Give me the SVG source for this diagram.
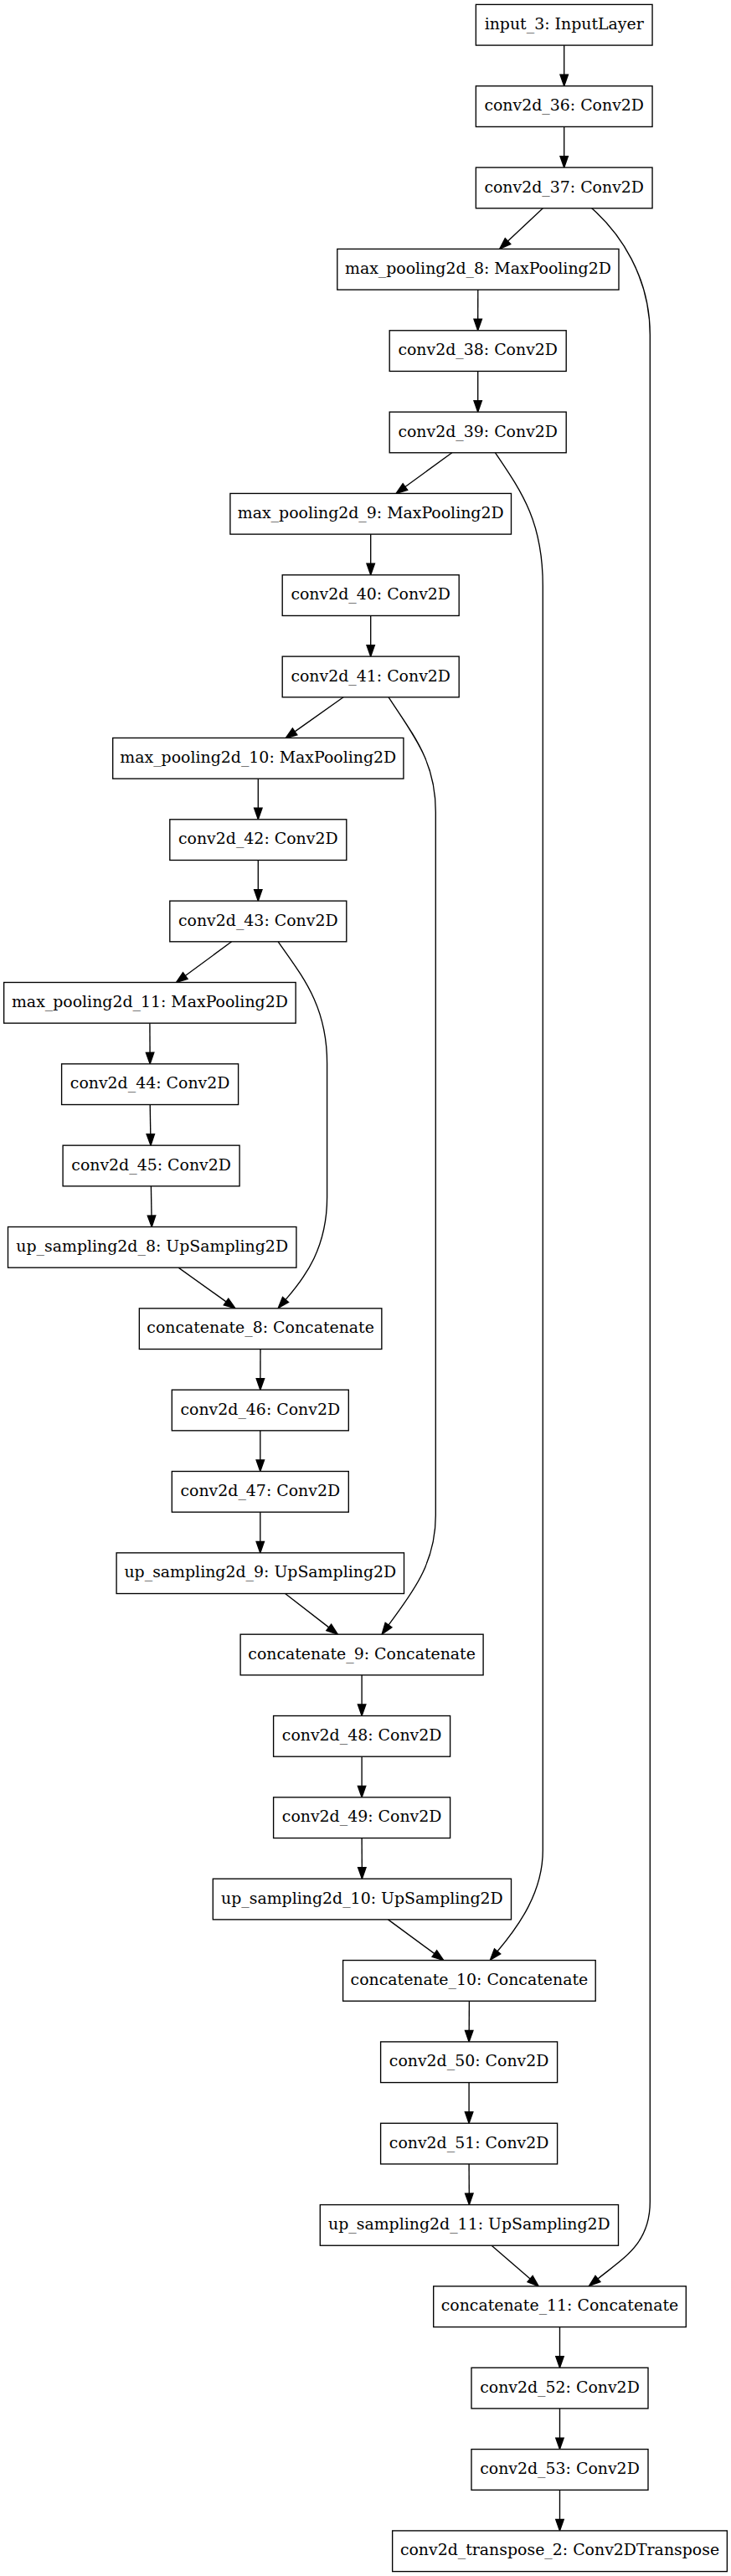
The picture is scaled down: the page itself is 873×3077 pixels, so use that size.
<svg xmlns="http://www.w3.org/2000/svg" width="873" height="3077" viewBox="0 0 873 3077">
<style>
.n rect{fill:#fff;stroke:#000;stroke-width:1.35}
.n text{font-family:"DejaVu Serif",serif;font-size:18.9px;text-anchor:middle;fill:#000}
#edges line,#edges path{fill:none;stroke:#000;stroke-width:1.35;marker-end:url(#ah)}
</style>
<defs>
<marker id="ah" markerUnits="userSpaceOnUse" markerWidth="16" markerHeight="12" refX="0" refY="0" orient="auto" overflow="visible">
<polygon points="0,-4.73 13.5,0 0,4.73" fill="#000" stroke="#000" stroke-width="1.35"/>
</marker>
</defs>
<rect width="873" height="3077" fill="#fff"/>
<g id="edges">
<line x1="673.7" y1="54.08" x2="673.7" y2="89.25"/>
<line x1="673.7" y1="151.42" x2="673.7" y2="186.59"/>
<line x1="648.3" y1="248.76" x2="606.5" y2="288.1"/>
<line x1="570.8" y1="346.1" x2="570.7" y2="381.27"/>
<line x1="570.7" y1="443.44" x2="570.7" y2="478.61"/>
<line x1="539.8" y1="540.78" x2="483.9" y2="581.5"/>
<line x1="442.7" y1="638.11" x2="442.7" y2="673.28"/>
<line x1="442.7" y1="735.45" x2="442.7" y2="770.62"/>
<line x1="410.1" y1="832.79" x2="352.1" y2="873.9"/>
<line x1="308.3" y1="930.13" x2="308.3" y2="965.3"/>
<line x1="308.3" y1="1027.47" x2="308.3" y2="1062.64"/>
<line x1="276.6" y1="1124.81" x2="221.3" y2="1165.5"/>
<line x1="178.9" y1="1222.15" x2="179.1" y2="1257.32"/>
<line x1="179.2" y1="1319.49" x2="179.8" y2="1354.66"/>
<line x1="180.4" y1="1416.83" x2="181.0" y2="1452.0"/>
<line x1="213.1" y1="1514.17" x2="270.0" y2="1554.9"/>
<path d="M332.2,1124.81 C360,1165 390.6,1200 390.6,1270 L390.6,1430 C390.6,1490 365,1525 341.1,1552.4"/>
<line x1="311.0" y1="1611.51" x2="310.9" y2="1646.67"/>
<line x1="310.8" y1="1708.84" x2="310.8" y2="1744.01"/>
<line x1="310.8" y1="1806.18" x2="310.8" y2="1841.35"/>
<line x1="340.6" y1="1903.52" x2="392.7" y2="1943.9"/>
<path d="M464.1,832.79 C495,880 520.3,910 520.3,970 L520.3,1810 C520.3,1870 490,1905 464,1941.1"/>
<line x1="432.1" y1="2000.86" x2="432.1" y2="2036.03"/>
<line x1="432.1" y1="2098.2" x2="432.1" y2="2133.37"/>
<line x1="432.1" y1="2195.54" x2="432.3" y2="2230.71"/>
<line x1="463.5" y1="2292.88" x2="518.9" y2="2333.6"/>
<path d="M591.5,540.78 C625,590 648.3,625 648.3,700 L648.3,2210 C648.3,2260 620,2300 594.1,2330.8"/>
<line x1="560.4" y1="2390.22" x2="560.2" y2="2425.39"/>
<line x1="560.1" y1="2487.56" x2="560.1" y2="2522.73"/>
<line x1="560.1" y1="2584.9" x2="560.3" y2="2620.07"/>
<line x1="587.1" y1="2682.24" x2="633.1" y2="2722.1"/>
<path d="M706.7,248.76 C740,278 776.3,330 776.3,400 L776.3,2630 C776.3,2680 745,2697 714,2722"/>
<line x1="668.5" y1="2779.57" x2="668.5" y2="2814.74"/>
<line x1="668.5" y1="2876.91" x2="668.5" y2="2912.08"/>
<line x1="668.5" y1="2974.25" x2="668.5" y2="3009.42"/>
</g>
<g id="input_3" class="n"><rect x="568.35" y="5.41" width="210.7" height="48.67"/><text x="673.7" y="34.9">input_3: InputLayer</text></g>
<g id="conv2d_36" class="n"><rect x="568.35" y="102.75" width="210.7" height="48.67"/><text x="673.7" y="132.25">conv2d_36: Conv2D</text></g>
<g id="conv2d_37" class="n"><rect x="568.35" y="200.09" width="210.7" height="48.67"/><text x="673.7" y="229.59">conv2d_37: Conv2D</text></g>
<g id="max_pooling2d_8" class="n"><rect x="402.8" y="297.43" width="336.2" height="48.67"/><text x="570.9" y="326.93">max_pooling2d_8: MaxPooling2D</text></g>
<g id="conv2d_38" class="n"><rect x="465.2" y="394.77" width="211" height="48.67"/><text x="570.7" y="424.27">conv2d_38: Conv2D</text></g>
<g id="conv2d_39" class="n"><rect x="465.2" y="492.11" width="211" height="48.67"/><text x="570.7" y="521.61">conv2d_39: Conv2D</text></g>
<g id="max_pooling2d_9" class="n"><rect x="274.9" y="589.44" width="335.6" height="48.67"/><text x="442.7" y="618.94">max_pooling2d_9: MaxPooling2D</text></g>
<g id="conv2d_40" class="n"><rect x="337.2" y="686.78" width="211" height="48.67"/><text x="442.7" y="716.28">conv2d_40: Conv2D</text></g>
<g id="conv2d_41" class="n"><rect x="337.2" y="784.12" width="211" height="48.67"/><text x="442.7" y="813.62">conv2d_41: Conv2D</text></g>
<g id="max_pooling2d_10" class="n"><rect x="134.7" y="881.46" width="347.2" height="48.67"/><text x="308.3" y="910.96">max_pooling2d_10: MaxPooling2D</text></g>
<g id="conv2d_42" class="n"><rect x="202.8" y="978.8" width="211" height="48.67"/><text x="308.3" y="1008.3">conv2d_42: Conv2D</text></g>
<g id="conv2d_43" class="n"><rect x="202.8" y="1076.14" width="211" height="48.67"/><text x="308.3" y="1105.64">conv2d_43: Conv2D</text></g>
<g id="max_pooling2d_11" class="n"><rect x="4.65" y="1173.48" width="348.5" height="48.67"/><text x="178.9" y="1202.98">max_pooling2d_11: MaxPooling2D</text></g>
<g id="conv2d_44" class="n"><rect x="73.6" y="1270.82" width="211" height="48.67"/><text x="179.1" y="1300.32">conv2d_44: Conv2D</text></g>
<g id="conv2d_45" class="n"><rect x="75.1" y="1368.16" width="211" height="48.67"/><text x="180.6" y="1397.66">conv2d_45: Conv2D</text></g>
<g id="up_sampling2d_8" class="n"><rect x="9.5" y="1465.5" width="344.4" height="48.67"/><text x="181.7" y="1495.0">up_sampling2d_8: UpSampling2D</text></g>
<g id="concatenate_8" class="n"><rect x="166.35" y="1562.84" width="289.5" height="48.67"/><text x="311.1" y="1592.34">concatenate_8: Concatenate</text></g>
<g id="conv2d_46" class="n"><rect x="205.3" y="1660.17" width="211" height="48.67"/><text x="310.8" y="1689.67">conv2d_46: Conv2D</text></g>
<g id="conv2d_47" class="n"><rect x="205.3" y="1757.51" width="211" height="48.67"/><text x="310.8" y="1787.01">conv2d_47: Conv2D</text></g>
<g id="up_sampling2d_9" class="n"><rect x="139.1" y="1854.85" width="343.4" height="48.67"/><text x="310.8" y="1884.35">up_sampling2d_9: UpSampling2D</text></g>
<g id="concatenate_9" class="n"><rect x="287.1" y="1952.19" width="290" height="48.67"/><text x="432.1" y="1981.69">concatenate_9: Concatenate</text></g>
<g id="conv2d_48" class="n"><rect x="326.6" y="2049.53" width="211" height="48.67"/><text x="432.1" y="2079.03">conv2d_48: Conv2D</text></g>
<g id="conv2d_49" class="n"><rect x="326.6" y="2146.87" width="211" height="48.67"/><text x="432.1" y="2176.37">conv2d_49: Conv2D</text></g>
<g id="up_sampling2d_10" class="n"><rect x="254.3" y="2244.21" width="356.2" height="48.67"/><text x="432.4" y="2273.71">up_sampling2d_10: UpSampling2D</text></g>
<g id="concatenate_10" class="n"><rect x="409.6" y="2341.55" width="301.6" height="48.67"/><text x="560.4" y="2371.05">concatenate_10: Concatenate</text></g>
<g id="conv2d_50" class="n"><rect x="454.6" y="2438.89" width="211" height="48.67"/><text x="560.1" y="2468.39">conv2d_50: Conv2D</text></g>
<g id="conv2d_51" class="n"><rect x="454.6" y="2536.23" width="211" height="48.67"/><text x="560.1" y="2565.73">conv2d_51: Conv2D</text></g>
<g id="up_sampling2d_11" class="n"><rect x="382.3" y="2633.57" width="356.2" height="48.67"/><text x="560.4" y="2663.07">up_sampling2d_11: UpSampling2D</text></g>
<g id="concatenate_11" class="n"><rect x="517.7" y="2730.9" width="301.6" height="48.67"/><text x="668.5" y="2760.4">concatenate_11: Concatenate</text></g>
<g id="conv2d_52" class="n"><rect x="563" y="2828.24" width="211" height="48.67"/><text x="668.5" y="2857.74">conv2d_52: Conv2D</text></g>
<g id="conv2d_53" class="n"><rect x="563" y="2925.58" width="211" height="48.67"/><text x="668.5" y="2955.08">conv2d_53: Conv2D</text></g>
<g id="conv2d_transpose_2" class="n"><rect x="468.65" y="3022.92" width="399.7" height="48.67"/><text x="668.5" y="3052.42">conv2d_transpose_2: Conv2DTranspose</text></g>
</svg>
